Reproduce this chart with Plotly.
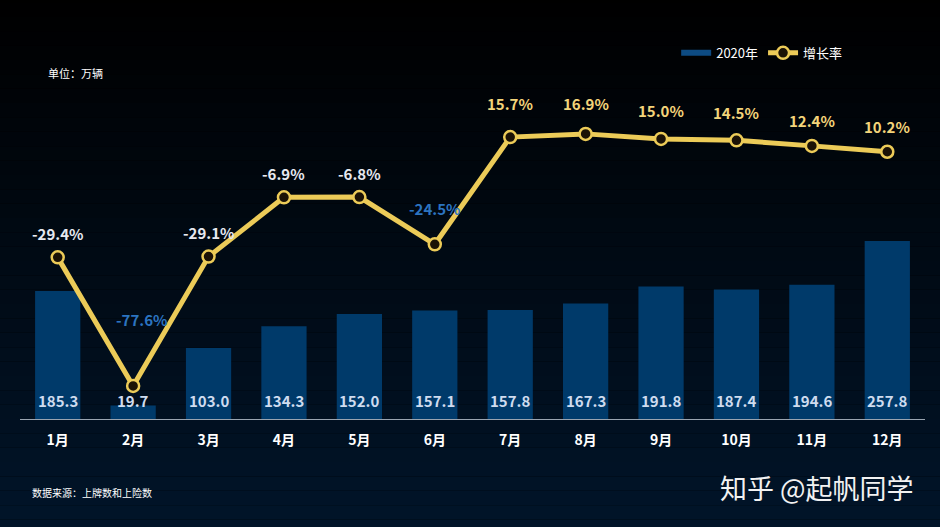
import plotly.graph_objects as go

months = ["1月", "2月", "3月", "4月", "5月", "6月", "7月", "8月", "9月", "10月", "11月", "12月"]
sales_2020 = [185.3, 19.7, 103.0, 134.3, 152.0, 157.1, 157.8, 167.3, 191.8, 187.4, 194.6, 257.8]
growth = [-29.4, -77.6, -29.1, -6.9, -6.8, -24.5, 15.7, 16.9, 15.0, 14.5, 12.4, 10.2]

FONT = "Noto Sans CJK SC"
GOLD = "#eccb58"
BLUE_BAR = "#003a6a"

# label offsets (px above the point) for the growth-rate labels
label_shift = {"2月": 66, "6月": 36, "7月": 34, "8月": 30, "9月": 28, "10月": 28, "11月": 25, "12月": 25}

fig = go.Figure()

fig.add_trace(go.Bar(
    x=months, y=sales_2020, name="2020年",
    marker=dict(color=BLUE_BAR, line=dict(width=0)),
    width=0.6, showlegend=False, hoverinfo="skip",
))
# legend-only swatch so the bar entry looks like a wide strip
fig.add_trace(go.Scatter(
    x=[None], y=[None], mode="lines", name="2020年",
    line=dict(color="#0d4b82", width=6),
))
fig.add_trace(go.Scatter(
    x=months, y=growth, name="增长率", yaxis="y2",
    mode="lines+markers",
    line=dict(color=GOLD, width=5),
    marker=dict(size=12, color="#1b1206", line=dict(color=GOLD, width=2.5)),
))

# bar value labels at the base of each bar
for m, v in zip(months, sales_2020):
    fig.add_annotation(
        x=m, y=0, text=f"{v:.1f}", showarrow=False,
        yanchor="bottom", yshift=6,
        font=dict(family=FONT, size=15, color="#cfdcef", weight="bold"),
    )

# growth labels
for m, g in zip(months, growth):
    if m in ("2月", "6月"):
        col = "#2c74c0"
    elif g < 0:
        col = "#e6e8f0"
    else:
        col = "#f3d47a"
    fig.add_annotation(
        x=m, y=g, yref="y2", text=f"{g:.1f}%", showarrow=False,
        yshift=label_shift.get(m, 24), xshift=8 if m == "2月" else 0,
        font=dict(family=FONT, size=15, color=col, weight="bold"),
    )

fig.add_annotation(xref="paper", yref="paper", x=0.029, y=0.963, text="单位：万辆",
                   showarrow=False, xanchor="left", yanchor="middle",
                   font=dict(family=FONT, size=11, color="#ffffff"))
fig.add_annotation(xref="paper", yref="paper", x=0.011, y=-0.206, text="数据来源：上牌数和上险数",
                   showarrow=False, xanchor="left", yanchor="middle",
                   font=dict(family=FONT, size=10, color="#ffffff"))
fig.add_annotation(xref="paper", yref="paper", x=0.99, y=-0.19, text="知乎 @起帆同学",
                   showarrow=False, xanchor="right", yanchor="middle",
                   font=dict(family=FONT, size=27, color="#f2f2f2"))

# vertical background gradient, black to dark navy
shapes = []
n = 40
for k in range(n):
    t = k / (n - 1)
    r, g_, b = int(2 * t), int(22 * t), int(44 * t)
    shapes.append(dict(type="rect", xref="paper", yref="paper",
                       x0=-0.1, x1=1.1,
                       y0=1.2 - (k + 1) * 1.6 / n, y1=1.2 - k * 1.6 / n,
                       fillcolor=f"rgb({r},{g_},{b})", line=dict(width=0), layer="below"))

fig.update_layout(
    width=940, height=527,
    margin=dict(l=20, r=15, t=60, b=108),
    paper_bgcolor="#000000", plot_bgcolor="rgba(0,0,0,0)",
    shapes=shapes,
    font=dict(family=FONT, color="#ffffff"),
    xaxis=dict(
        range=[-0.5, 11.5],
        showgrid=False, showline=True, linecolor="#9aa4b0", linewidth=1,
        ticks="outside", ticklen=8, tickcolor="rgba(0,0,0,0)",
        tickfont=dict(family=FONT, size=14, color="#ffffff", weight="bold"),
    ),
    yaxis=dict(range=[0, 520], visible=False, showgrid=False),
    yaxis2=dict(range=[-90, 44.6], overlaying="y", visible=False, showgrid=False),
    legend=dict(
        orientation="h", x=0.914, xanchor="right", y=1.02, yanchor="middle",
        font=dict(family=FONT, size=13, color="#ffffff"),
        bgcolor="rgba(0,0,0,0)", itemwidth=30, tracegroupgap=0,
    ),
    showlegend=True,
)

fig.write_html(
    "out.html",
    config={"responsive": False, "displayModeBar": False},
    post_script="document.body.style.margin='0';document.body.style.overflow='hidden';document.body.style.background='#000';",
)
